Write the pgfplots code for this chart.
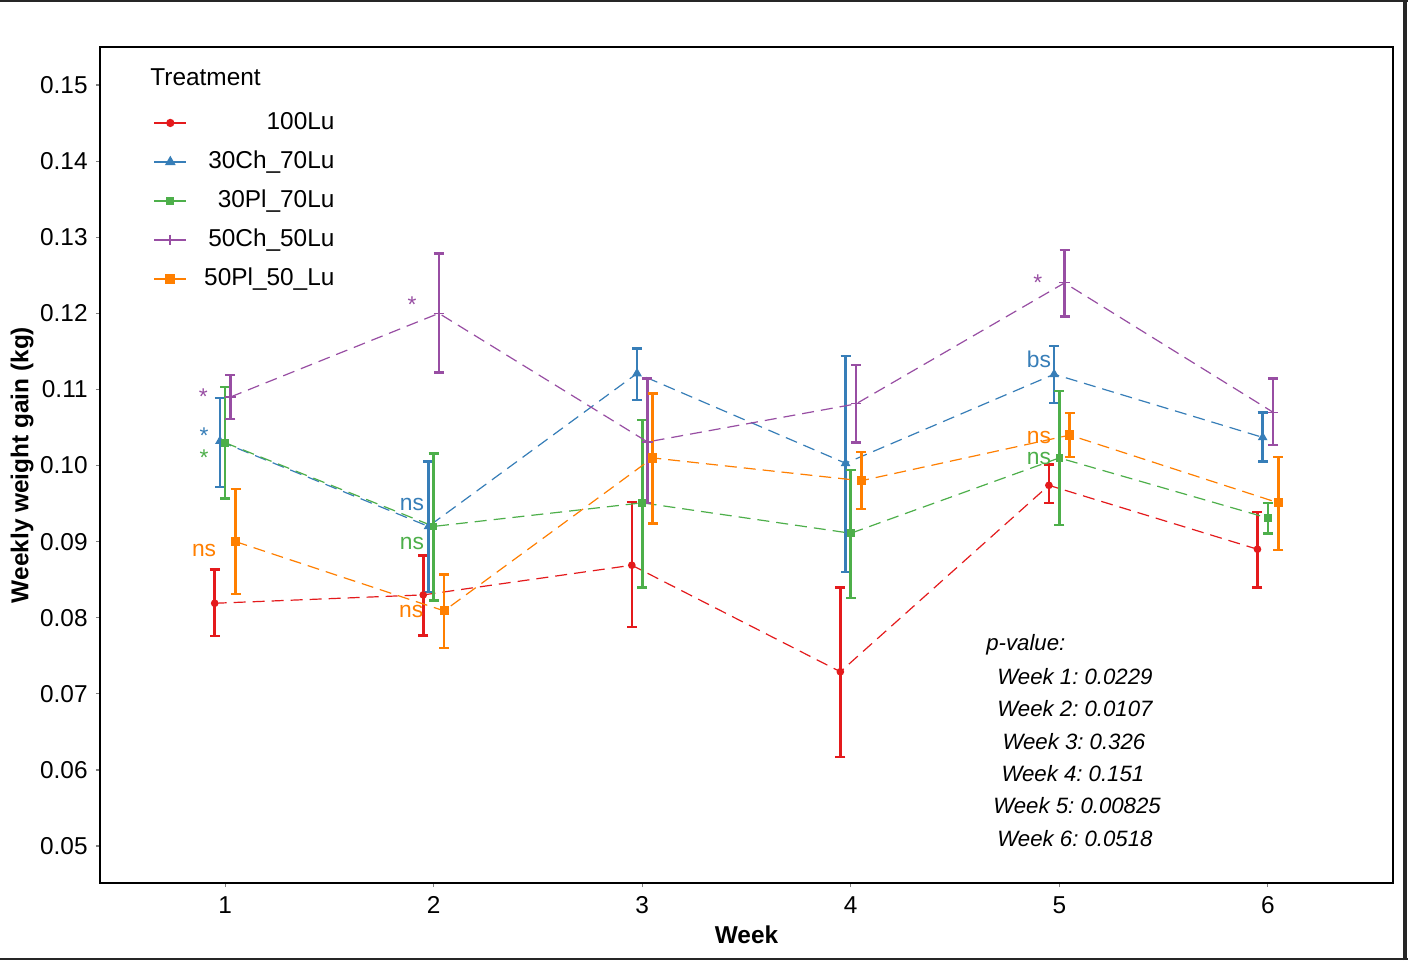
\documentclass[border=0pt]{standalone}
\usepackage{pgfplots}
\pgfplotsset{compat=1.18}
\usepackage{pgfplotstable}
\usepackage{fontspec}
\setmainfont{Liberation Sans}
\frenchspacing
\definecolor{cA}{HTML}{E41A1C}
\definecolor{cB}{HTML}{377EB8}
\definecolor{cC}{HTML}{4DAF4A}
\definecolor{cD}{HTML}{984EA3}
\definecolor{cE}{HTML}{FF7F00}

\pgfplotstableread{
w y lo hi
1 0.0819 0.0776 0.0863
2 0.0830 0.0777 0.0882
3 0.0869 0.0788 0.0952
4 0.0729 0.0617 0.0840
5 0.0974 0.0951 0.1001
6 0.0890 0.0840 0.0939
}\tA
\pgfplotstableread{
w y lo hi
1 0.1032 0.0972 0.1089
2 0.0920 0.0834 0.1005
3 0.1121 0.1086 0.1154
4 0.1003 0.0860 0.1144
5 0.1120 0.1082 0.1157
6 0.1037 0.1005 0.1070
}\tB
\pgfplotstableread{
w y lo hi
1 0.1030 0.0957 0.1103
2 0.0920 0.0823 0.1016
3 0.0951 0.0840 0.1060
4 0.0911 0.0826 0.0994
5 0.1010 0.0922 0.1098
6 0.0931 0.0911 0.0951
}\tC
\pgfplotstableread{
w y lo hi
1 0.1090 0.1061 0.1119
2 0.1200 0.1122 0.1279
3 0.1031 0.0951 0.1114
4 0.1081 0.1030 0.1132
5 0.1240 0.1196 0.1283
6 0.1070 0.1027 0.1114
}\tD
\pgfplotstableread{
w y lo hi
1 0.0900 0.0831 0.0969
2 0.0809 0.0760 0.0857
3 0.1010 0.0924 0.1095
4 0.0980 0.0943 0.1018
5 0.1040 0.1011 0.1069
6 0.0951 0.0889 0.1011
}\tE

\newcommand{\fs}{\fontsize{12.2}{14}\selectfont}
\newcommand{\fp}{\fontsize{11.1}{13}\selectfont}
\newcommand{\fa}{\fontsize{11.4}{13}\selectfont}

\begin{document}
\begin{tikzpicture}
\useasboundingbox (0pt,0pt) rectangle (704pt,480pt);
\fill[white] (0pt,0pt) rectangle (704pt,480pt);
\begin{axis}[
  at={(50pt,38.5pt)}, anchor=south west,
  width=646.5pt, height=418pt, scale only axis,
  xmin=0.4, xmax=6.6, ymin=0.04514, ymax=0.155,
  xtick={1,2,3,4,5,6},
  ytick={0.05,0.06,0.07,0.08,0.09,0.10,0.11,0.12,0.13,0.14,0.15},
  xtick pos=bottom, ytick pos=left,
  yticklabel style={/pgf/number format/fixed, /pgf/number format/fixed zerofill, /pgf/number format/precision=2},
  /pgf/number format/assume math mode=true,
  tick label style={font=\fs, text=black},
  xticklabel style={inner sep=0pt, yshift=-4.5pt, anchor=north},
  yticklabel style={inner sep=0pt, xshift=-4pt, anchor=east},
  tick align=outside, major tick length=2pt,
  tick style={gray, line width=0.6pt},
  axis line style={black, line width=0.9pt},
  xlabel={\bfseries Week}, ylabel={\bfseries Weekly weight gain (kg)},
  label style={font=\fs},
  xlabel style={at={(axis description cs:0.5,-0.0622)}, anchor=center},
  ylabel style={at={(axis description cs:-0.0603,0.5)}, anchor=center},
  legend cell align=right,
  legend style={at={(0.041,0.9234)}, anchor=north west, draw=none, fill=none,
    font=\fs, row sep=8pt, inner sep=0pt,
    nodes={inner sep=0pt, text height=9pt, text depth=2.5pt},
    /tikz/every odd column/.append style={column sep=8.5pt}},
  legend image code/.code={\draw[#1,solid,line width=0.9pt,mark repeat=2,mark phase=2] plot coordinates {(0pt,0pt) (8pt,0pt) (16pt,0pt)};},
  every axis plot/.append style={dashed, dash pattern=on 6pt off 3.5pt, line width=0.6pt},
  error bars/y dir=both, error bars/y explicit,
  error bars/error bar style={solid, line width=1.3pt},
  error bars/error mark options={solid, line width=1.3pt, mark size=2.5pt, rotate=90},
]
\addplot[color=cA, mark=*, mark size=1.6pt, mark options={solid, fill=cA}]
  table[x expr=\thisrow{w}-0.05, y=y, y error plus expr=\thisrow{hi}-\thisrow{y}, y error minus expr=\thisrow{y}-\thisrow{lo}] {\tA};
\addlegendentry{100Lu}
\addplot[color=cB, mark=triangle*, mark size=2.2pt, mark options={solid, fill=cB}]
  table[x expr=\thisrow{w}-0.025, y=y, y error plus expr=\thisrow{hi}-\thisrow{y}, y error minus expr=\thisrow{y}-\thisrow{lo}] {\tB};
\addlegendentry{30Ch\_70Lu}
\addplot[color=cC, mark=square*, mark size=1.6pt, mark options={solid, fill=cC}]
  table[x expr=\thisrow{w}, y=y, y error plus expr=\thisrow{hi}-\thisrow{y}, y error minus expr=\thisrow{y}-\thisrow{lo}] {\tC};
\addlegendentry{30Pl\_70Lu}
\addplot[color=cD, mark=+, mark size=2.6pt, mark options={solid}]
  table[x expr=\thisrow{w}+0.025, y=y, y error plus expr=\thisrow{hi}-\thisrow{y}, y error minus expr=\thisrow{y}-\thisrow{lo}] {\tD};
\addlegendentry{50Ch\_50Lu}
\addplot[color=cE, mark=square*, mark size=2pt, mark options={solid, fill=cE}]
  table[x expr=\thisrow{w}+0.05, y=y, y error plus expr=\thisrow{hi}-\thisrow{y}, y error minus expr=\thisrow{y}-\thisrow{lo}] {\tE};
\addlegendentry{50Pl\_50\_Lu}

% significance annotations
\node[font=\fa, text=cD] at (axis cs:0.895,0.1090) {*};
\node[font=\fa, text=cB] at (axis cs:0.899,0.1039) {*};
\node[font=\fa, text=cC] at (axis cs:0.899,0.1011) {*};
\node[font=\fa, text=cE] at (axis cs:0.899,0.0889) {ns};
\node[font=\fa, text=cD] at (axis cs:1.896,0.1211) {*};
\node[font=\fa, text=cB] at (axis cs:1.896,0.0949) {ns};
\node[font=\fa, text=cC] at (axis cs:1.896,0.0898) {ns};
\node[font=\fa, text=cE] at (axis cs:1.892,0.0808) {ns};
\node[font=\fa, text=cD] at (axis cs:4.897,0.1240) {*};
\node[font=\fa, text=cB] at (axis cs:4.902,0.1139) {bs};
\node[font=\fa, text=cE] at (axis cs:4.902,0.1037) {ns};
\node[font=\fa, text=cC] at (axis cs:4.902,0.1009) {ns};

% p-values
\node[font=\fp\itshape, anchor=west, inner sep=0pt] at (axis cs:4.648,0.07641) {p-value:};
\node[font=\fp\itshape, inner sep=0pt] at (axis cs:5.075,0.07221) {Week 1: 0.0229};
\node[font=\fp\itshape, inner sep=0pt] at (axis cs:5.075,0.06800) {Week 2: 0.0107};
\node[font=\fp\itshape, inner sep=0pt] at (axis cs:5.070,0.06367) {Week 3: 0.326};
\node[font=\fp\itshape, inner sep=0pt] at (axis cs:5.065,0.05946) {Week 4: 0.151};
\node[font=\fp\itshape, inner sep=0pt] at (axis cs:5.085,0.05526) {Week 5: 0.00825};
\node[font=\fp\itshape, inner sep=0pt] at (axis cs:5.075,0.05092) {Week 6: 0.0518};
\end{axis}
\node[font=\fs, anchor=base west, inner sep=0pt] at (75pt,437pt) {Treatment};
\draw[black!85, line width=1pt] (0pt,479.5pt) -- (704pt,479.5pt);
\draw[black!85, line width=1pt] (0pt,0.5pt) -- (704pt,0.5pt);
\draw[black!85, line width=2pt] (702.5pt,0pt) -- (702.5pt,480pt);
\end{tikzpicture}
\end{document}
